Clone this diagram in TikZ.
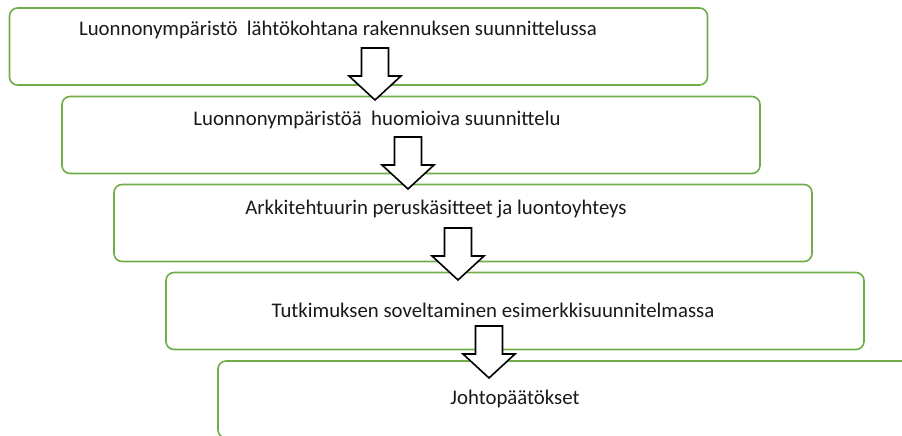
\documentclass[tikz,border=0pt]{standalone}
\usepackage{fontspec}
\setmainfont{Carlito}
\usetikzlibrary{positioning}

\definecolor{boxgreen}{HTML}{70AD47}
\tikzset{
  stage/.style={draw=boxgreen,line width=1.6pt,rounded corners=8pt,fill=white,
    minimum width=698pt,minimum height=77pt,inner sep=0pt},
  caption/.style={font=\fontsize{20.8}{24}\selectfont,text=black!90,inner sep=0pt},
  downarrow/.pic={
    \draw[line width=1.6pt,fill=white,line join=miter]
      (-13.5,0) -- (13.5,0) -- (13.5,28) -- (26,28) -- (0,52) -- (-26,28) -- (-13.5,28) -- cycle;
  }
}

\begin{document}
\begin{tikzpicture}[x=1pt,y=-1pt]
    \useasboundingbox (0,0) rectangle (902,436);
    \clip (0,0) rectangle (902,436);
    % stages
    \node[stage] (stage1) at (358.5,46.5) {};
    \node[stage] (stage2) at (411,135) {};
    \node[stage] (stage3) at (463,223) {};
    \node[stage] (stage4) at (515,311) {};
    \node[stage] (stage5) at (567,399.5) {};
    % arrows between stages
    \pic at (375,48) {downarrow};
    \pic at (408,137) {downarrow};
    \pic at (458,228) {downarrow};
    \pic at (489,326) {downarrow};
    % texts
    \node[caption] (text1) at (338,30) {Luonnonympäristö\ \ lähtökohtana rakennuksen\ suunnittelussa};
    \node[caption] (text2) at (377,120) {Luonnonympäristöä\ \ huomioiva suunnittelu};
    \node[caption] (text3) at (436,209) {Arkkitehtuurin peruskäsitteet ja luontoyhteys};
    \node[caption] (text4) at (493,310) {Tutkimuksen soveltaminen esimerkkisuunnitelmassa};
    \node[caption] (text5) at (515,399) {Johtopäätökset};
\end{tikzpicture}
\end{document}
